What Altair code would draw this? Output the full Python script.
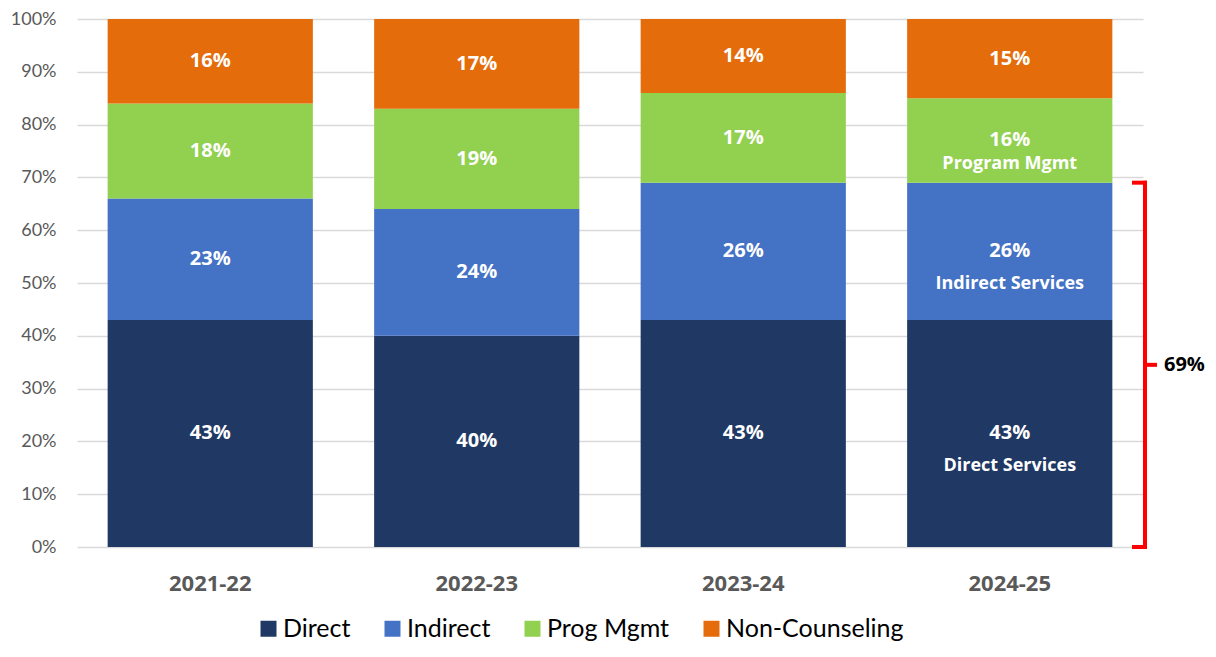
import altair as alt
import pandas as pd

years = ["2021-22", "2022-23", "2023-24", "2024-25"]
categories = ["Direct", "Indirect", "Prog Mgmt", "Non-Counseling"]
colors = ["#203864", "#4472C4", "#92D050", "#E46C0A"]
direct = [43, 40, 43, 43]
indirect = [23, 24, 26, 26]
prog_mgmt = [18, 19, 17, 16]
non_counseling = [16, 17, 14, 15]
sub_year = "2024-25"
sub_labels = {"Direct": "Direct Services", "Indirect": "Indirect Services", "Prog Mgmt": "Program Mgmt"}
bracket_total = direct[3] + indirect[3]

series = [direct, indirect, prog_mgmt, non_counseling]
rows = []
for i, yr in enumerate(years):
    base = 0
    for c, vals in zip(categories, series):
        v = vals[i]
        rows.append({"year": yr, "cat": c, "v": v, "y0": base, "y1": base + v,
                     "mid": base + v / 2, "lab": f"{v}%",
                     "sub": sub_labels.get(c, "") if yr == sub_year else ""})
        base += v
df = pd.DataFrame(rows)

W, H = 1066, 528
yscale = alt.Scale(domain=[0, 100], nice=False, zero=True)
xenc = alt.X("year:N", sort=years, title=None,
             scale=alt.Scale(paddingInner=0.23, paddingOuter=0.115),
             axis=alt.Axis(labelFont="Open Sans", labelFontWeight="bold", labelFontSize=22,
                           labelColor="#595959", ticks=False, domain=False, labelAngle=0,
                           labelBaseline="middle", labelPadding=36))

bars = alt.Chart(df).mark_bar().encode(
    x=xenc,
    y=alt.Y("y0:Q", scale=yscale, title=None,
            axis=alt.Axis(values=list(range(0, 101, 10)), labelExpr="datum.value + '%'",
                          labelFont="Lato", labelFontSize=18, labelColor="#595959",
                          ticks=False, domain=False, labelPadding=21,
                          gridColor="#D9D9D9", gridWidth=1.5)),
    y2="y1:Q",
    color=alt.Color("cat:N", scale=alt.Scale(domain=categories, range=colors), title=None,
                    legend=alt.Legend(orient="none", legendX=179, legendY=H + 69,
                                      direction="horizontal", symbolType="square",
                                      symbolSize=256, symbolStrokeWidth=0,
                                      labelFont="Lato", labelFontSize=25, labelColor="#000000",
                                      labelLimit=400, columnPadding=29, labelOffset=2)),
)

labels = alt.Chart(df).mark_text(color="white", font="Open Sans", fontWeight="bold",
                                 fontSize=20, baseline="middle").encode(
    x=alt.X("year:N", sort=years), y=alt.Y("mid:Q", scale=yscale), text="lab:N")

sub_pm = alt.Chart(df[(df["sub"] != "") & (df["cat"] == "Prog Mgmt")]).mark_text(
    color="white", font="Open Sans", fontWeight="bold", fontSize=18, baseline="middle", dy=24
).encode(x=alt.X("year:N", sort=years), y=alt.Y("mid:Q", scale=yscale), text="sub:N")

sub_other = alt.Chart(df[(df["sub"] != "") & (df["cat"] != "Prog Mgmt")]).mark_text(
    color="white", font="Open Sans", fontWeight="bold", fontSize=18, baseline="middle", dy=33
).encode(x=alt.X("year:N", sort=years), y=alt.Y("mid:Q", scale=yscale), text="sub:N")

br = pd.DataFrame({"y0": [0], "y1": [bracket_total], "mid": [bracket_total / 2],
                   "lab": [f"{bracket_total}%"]})
hooks = pd.DataFrame({"y": [0, bracket_total]})

b_vert = alt.Chart(br).mark_rule(color="#FF0000", strokeWidth=4, strokeCap="square").encode(
    x=alt.value(1068), y=alt.Y("y0:Q", scale=yscale), y2="y1:Q")
b_hooks = alt.Chart(hooks).mark_rule(color="#FF0000", strokeWidth=4, strokeCap="square").encode(
    x=alt.value(1057), x2=alt.value(1068), y=alt.Y("y:Q", scale=yscale))
b_tick = alt.Chart(br).mark_rule(color="#FF0000", strokeWidth=4).encode(
    x=alt.value(1068), x2=alt.value(1080), y=alt.Y("mid:Q", scale=yscale))
b_text = alt.Chart(br).mark_text(color="#000000", font="Open Sans", fontWeight="bold",
                                 fontSize=20, align="left", baseline="middle").encode(
    x=alt.value(1087), y=alt.Y("mid:Q", scale=yscale), text="lab:N")

chart = alt.layer(bars, labels, sub_pm, sub_other, b_vert, b_hooks, b_tick, b_text).properties(
    width=W, height=H,
    padding={"left": 69, "top": 11, "right": 65, "bottom": 96},
    autosize=alt.AutoSizeParams(type="none"),
).configure_view(stroke=None)

chart.save("out.html", embed_options={"renderer": "svg", "actions": False})
